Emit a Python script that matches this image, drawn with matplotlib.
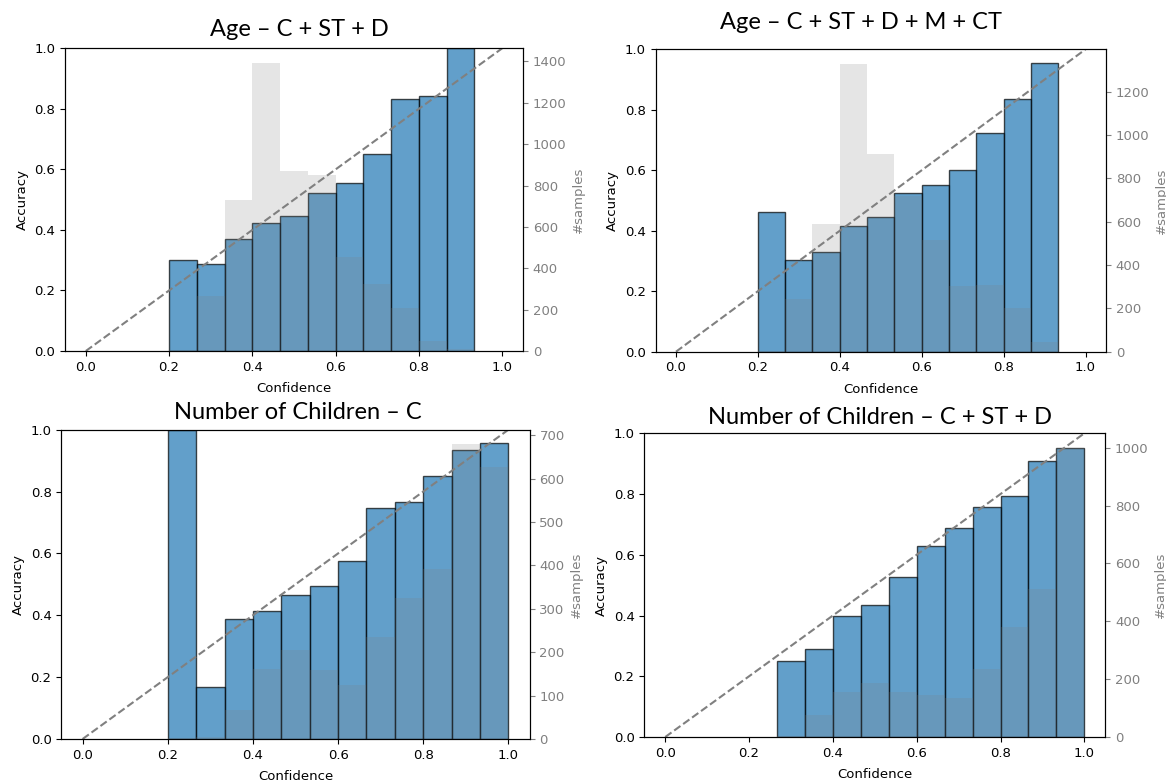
import numpy as np
import matplotlib
matplotlib.use("Agg")
import matplotlib.pyplot as plt

plt.rcParams['font.family'] = ['DejaVu Sans']

W, H = 1166, 782
N_BINS = 15

titles = ["Age – C + ST + D",
          "Age – C + ST + D + M + CT",
          "Number of Children – C",
          "Number of Children – C + ST + D"]

# first non-empty bin index for each panel
first_bin = [3, 3, 3, 4]

acc_age_c_st_d = [0.30, 0.287, 0.37, 0.422, 0.447, 0.523, 0.556, 0.65, 0.831, 0.844, 1.0]
cnt_age_c_st_d = [5, 266, 731, 1394, 869, 850, 455, 323, 206, 50, 10]

acc_age_all = [0.461, 0.303, 0.329, 0.416, 0.447, 0.525, 0.551, 0.601, 0.723, 0.835, 0.956]
cnt_age_all = [5, 241, 590, 1329, 912, 720, 517, 302, 307, 200, 46]

acc_child_c = [1.0, 0.168, 0.389, 0.413, 0.466, 0.495, 0.574, 0.747, 0.766, 0.850, 0.933, 0.956]
cnt_child_c = [2, 4, 67, 161, 205, 160, 124, 236, 324, 391, 679, 626]

acc_child_c_st_d = [0.25, 0.289, 0.398, 0.436, 0.526, 0.630, 0.689, 0.757, 0.794, 0.909, 0.951]
cnt_child_c_st_d = [3, 76, 154, 186, 157, 144, 136, 234, 381, 510, 1000]

accs = [acc_age_c_st_d, acc_age_all, acc_child_c, acc_child_c_st_d]
cnts = [cnt_age_c_st_d, cnt_age_all, cnt_child_c, cnt_child_c_st_d]

# axes boxes in pixels: left, right, top, bottom
boxes = [(65, 523, 48.3, 351),
         (655.5, 1106, 49.3, 351.7),
         (61.3, 529.7, 429.7, 739),
         (644.3, 1105.3, 433.3, 737)]
title_pos = [(299, 29), (861, 22.5), (298, 412.7), (879.5, 417.7)]

fig = plt.figure(figsize=(W / 100, H / 100), dpi=100)

width = 1.0 / N_BINS
for i in range(4):
    l, r, t, b = boxes[i]
    ax = fig.add_axes([l / W, 1 - b / H, (r - l) / W, (b - t) / H])
    acc = accs[i]
    cnt = cnts[i]
    x = (np.arange(len(acc)) + first_bin[i]) / N_BINS
    ax.bar(x, acc, width=width, align='edge', color='C0', alpha=0.7,
           edgecolor='black', linewidth=1.0)
    ax.plot([0, 1], [0, 1], linestyle='--', color='grey', linewidth=1.5)
    ax.set_xlim(-0.05, 1.05)
    ax.set_ylim(0, 1)
    ax.set_xticks([0.0, 0.2, 0.4, 0.6, 0.8, 1.0])
    ax.set_yticks([0.0, 0.2, 0.4, 0.6, 0.8, 1.0])
    ax.tick_params(labelsize=9.5)
    ax.set_xlabel("Confidence", fontsize=9.5, labelpad=6)
    ax.set_ylabel("Accuracy", fontsize=9.5)

    ax2 = ax.twinx()
    ax2.bar(x, cnt, width=width, align='edge', color='grey', alpha=0.2)
    ax2.tick_params(axis='y', colors='grey', labelsize=9.5)
    ax2.set_ylabel("#samples", color='grey', fontsize=9.5)

    fig.text(title_pos[i][0] / W, 1 - title_pos[i][1] / H, titles[i],
             ha='center', va='center', fontsize=17, family=['Lato', 'DejaVu Sans'])

fig.savefig("out.png", dpi=100)
